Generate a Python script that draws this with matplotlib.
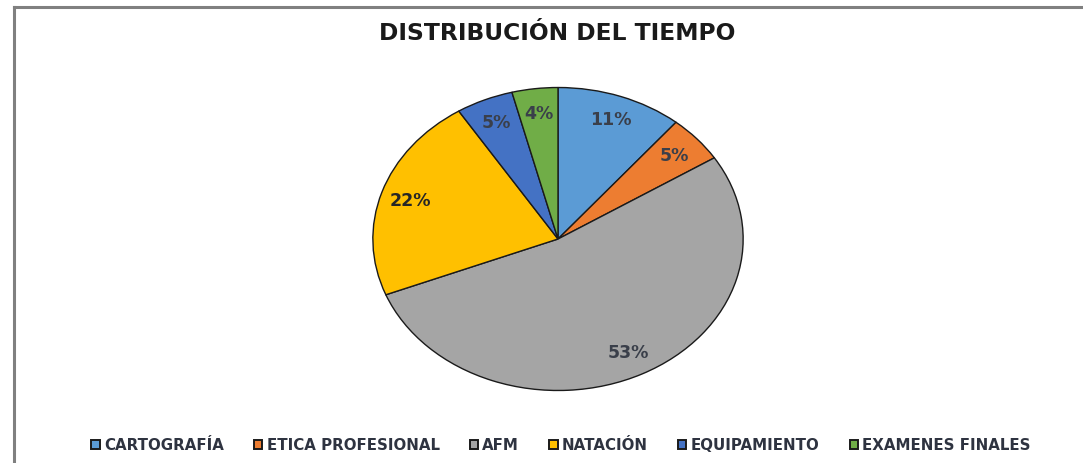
import matplotlib
matplotlib.use("Agg")
import matplotlib.pyplot as plt
from matplotlib.patches import Patch
from matplotlib.lines import Line2D

categories = ["CARTOGRAFÍA", "ETICA PROFESIONAL", "AFM", "NATACIÓN", "EQUIPAMIENTO", "EXAMENES FINALES"]
values = [11, 5, 53, 22, 5, 4]
colors = ["#5B9BD5", "#ED7D31", "#A5A5A5", "#FFC000", "#4472C4", "#70AD47"]
title = "DISTRIBUCIÓN DEL TIEMPO"

plt.rcParams['font.family'] = ['DejaVu Sans']

W, H = 1083, 464
fig = plt.figure(figsize=(W / 100, H / 100), dpi=100)
fig.patch.set_facecolor("white")

# outer frame (left and top visible)
fig.add_artist(Line2D([14 / W, 14 / W], [0, 1 - 8 / H], transform=fig.transFigure, color="#808080", lw=2.2))
fig.add_artist(Line2D([14 / W, 1.0], [1 - 8 / H, 1 - 8 / H], transform=fig.transFigure, color="#808080", lw=2.2))

# pie axes (elliptical)
x0, x1 = 371, 745
y0, y1 = 87, 393
ax = fig.add_axes([x0 / W, 1 - y1 / H, (x1 - x0) / W, (y1 - y0) / H])
wedges, texts, autotexts = ax.pie(
    values, colors=colors, startangle=90, counterclock=False,
    autopct=lambda p: f"{p:.0f}%", pctdistance=0.84,
    wedgeprops=dict(edgecolor="#1a1a1a", linewidth=1.0),
    textprops=dict(fontsize=12.5, fontweight="bold", color="#3a3f4a"),
)
autotexts[3].set_color("#262626")
ax.set_aspect("auto")
ax.set_xlim(-1.01, 1.01)
ax.set_ylim(-1.01, 1.01)
ax.axis("off")

fig.text(557 / W, 1 - 33 / H, title, ha="center", va="center",
         fontsize=16.8, fontweight="bold", color="#1a1a1a")

handles = [Patch(facecolor=c, edgecolor="#1a1a1a", linewidth=1.4) for c in colors]
leg = fig.legend(handles, categories, loc="center", bbox_to_anchor=(561 / W, 1 - 446 / H),
                 ncol=6, frameon=False, handlelength=0.55, handleheight=0.55, handletextpad=0.3,
                 columnspacing=2.0, prop=dict(size=10.8, weight="bold"))
for t in leg.get_texts():
    t.set_color("#2e3340")

fig.savefig("out.png", dpi=100, facecolor="white")
